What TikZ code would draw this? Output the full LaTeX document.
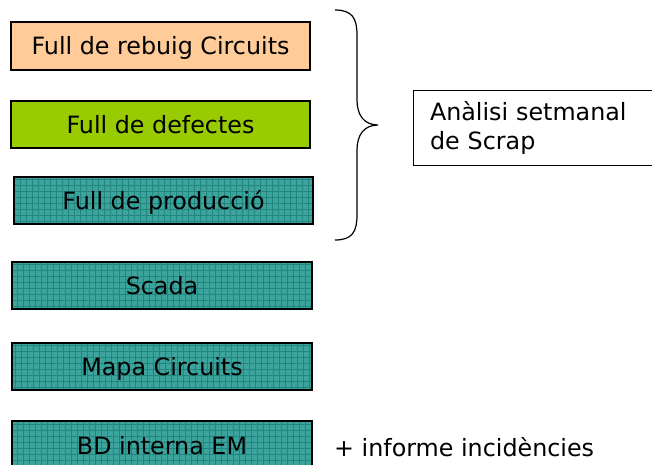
\documentclass[tikz,border=0pt]{standalone}
\usepackage{fontspec}
\setmainfont{DejaVu Sans}
\definecolor{peach}{HTML}{FFCC99}
\definecolor{lime}{HTML}{99CC00}
\definecolor{tealbase}{RGB}{60,164,156}
\definecolor{tealgrid}{RGB}{34,134,128}
\tikzset{
  sheet/.style={draw=black, line width=1.3pt, minimum width=299pt, minimum height=47pt,
    inner sep=0pt, text height=17.5pt, text depth=0pt,
    font=\fontsize{23.8}{28}\selectfont},
  tealsheet/.style={sheet, fill=tealbase,
    path picture={\draw[tealgrid, line width=0.6pt]
      ([xshift=-1pt,yshift=-1pt]path picture bounding box.south west) grid[step=6pt]
      ([xshift=1pt,yshift=1pt]path picture bounding box.north east);}},
  bracestroke/.style={draw=black, line width=1.2pt},
  note/.style={font=\fontsize{23.8}{29}\selectfont, inner sep=0pt}
}
\begin{document}
\begin{tikzpicture}[x=1pt, y=-1pt]
  \useasboundingbox[fill=white] (0,0) rectangle (652,464);

  % input sheets
  \node[sheet, fill=peach, minimum height=48pt] (rebuig) at (160.5,46) {Full de rebuig Circuits};
  \node[sheet, fill=lime] (defectes) at (160.5,124.5) {Full de defectes};
  \node[tealsheet] (produccio) at (163.5,200.5) {Full de producció};
  \node[tealsheet, minimum width=300pt] (scada) at (162,285.5) {Scada};
  \node[tealsheet, minimum width=300pt] (mapa) at (162,366.5) {Mapa Circuits};
  \node[tealsheet, minimum width=300pt, minimum height=50pt] (bd) at (162,446) {BD interna EM};

  % curly brace grouping the first three sheets
  \coordinate (btop) at (335,10);
  \coordinate (btip) at (378,125);
  \coordinate (bbot) at (335,240);
  \draw[bracestroke] (btop) .. controls (352,10) and (357,18) .. (357,35)
    -- (357,100) .. controls (357,115) and (364,125) .. (btip)
    .. controls (364,125) and (357,135) .. (357,150)
    -- (357,215) .. controls (357,232) and (352,240) .. (bbot);

  % weekly analysis box
  \node[draw=black, line width=1pt, minimum width=247pt, minimum height=75pt,
        text width=213pt, align=left, note] (analisi) at (536.5,127.5)
        {Anàlisi setmanal\\de Scrap};

  % extra report
  \node[note, anchor=base west] (informe) at (334,456) {+ informe incidències};
\end{tikzpicture}
\end{document}
